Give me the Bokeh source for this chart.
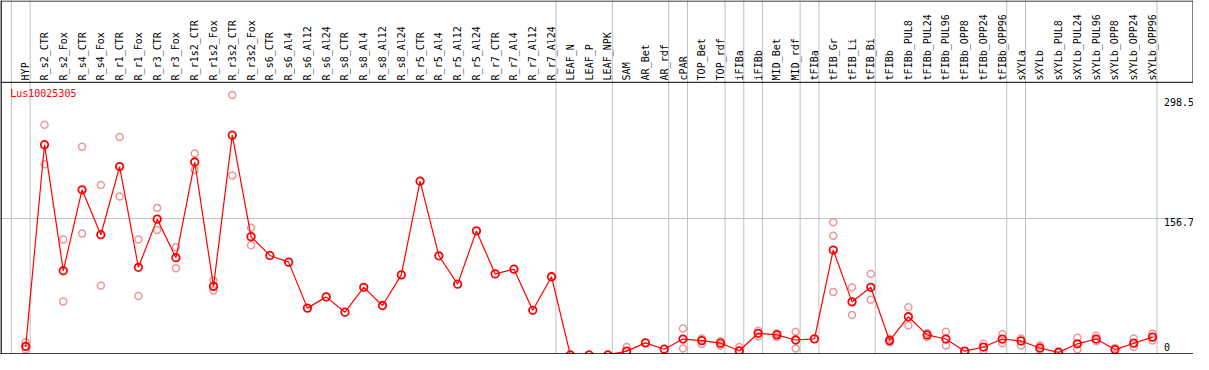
import math
from bokeh.plotting import figure
from bokeh.models import Range1d, Span, ColumnDataSource
from bokeh.core.properties import value
from bokeh.embed import file_html
from bokeh.resources import INLINE

# ---------------- data ----------------
gene = "Lus10025305"

groups = [
    ["HYP"],
    ["R_s2_CTR", "R_s2_Fox", "R_s4_CTR", "R_s4_Fox", "R_r1_CTR", "R_r1_Fox",
     "R_r3_CTR", "R_r3_Fox", "R_r1s2_CTR", "R_r1s2_Fox", "R_r3s2_CTR", "R_r3s2_Fox",
     "R_s6_CTR", "R_s6_Al4", "R_s6_Al12", "R_s6_Al24", "R_s8_CTR", "R_s8_Al4",
     "R_s8_Al12", "R_s8_Al24", "R_r5_CTR", "R_r5_Al4", "R_r5_Al12", "R_r5_Al24",
     "R_r7_CTR", "R_r7_Al4", "R_r7_Al12", "R_r7_Al24"],
    ["LEAF_N", "LEAF_P", "LEAF_NPK"],
    ["SAM", "AR_Bet", "AR_rdf"],
    ["cPAR"],
    ["TOP_Bet", "TOP_rdf"],
    ["iFIBa"],
    ["iFIBb"],
    ["MID_Bet", "MID_rdf"],
    ["tFIBa"],
    ["tFIB_Gr", "tFIB_Li", "tFIB_Bi"],
    ["tFIBb", "tFIBb_PUL8", "tFIBb_PUL24", "tFIBb_PUL96", "tFIBb_OPP8",
     "tFIBb_OPP24", "tFIBb_OPP96"],
    ["sXYLa"],
    ["sXYLb", "sXYLb_PUL8", "sXYLb_PUL24", "sXYLb_PUL96", "sXYLb_OPP8",
     "sXYLb_OPP24", "sXYLb_OPP96"],
]

means = [
    9.9,
    241.5, 96.7, 189.7, 138.1, 216.4, 100.7, 156.0, 111.7, 221.6, 78.8, 252.4, 135.9,
    114.3, 106.6, 53.8, 66.7, 49.1, 77.7, 56.8, 92.0, 199.6, 113.9, 81.3, 142.5,
    93.1, 98.5, 51.3, 89.8,
    0.0, 0.0, 0.0,
    4.4, 13.9, 6.6,
    18.3,
    16.5, 13.5,
    4.8,
    24.9,
    23.1, 17.2,
    18.5,
    120.5, 61.0, 77.7,
    16.5, 43.9, 23.0, 18.3, 4.4, 9.1, 18.3,
    16.1,
    8.0, 3.0, 12.8, 18.3, 6.2, 13.5, 20.5,
]

replicates = [
    [14.6, 6.2],
    [264.4, 219.0], [132.6, 61.5], [239.2, 139.5], [195.2, 79.9], [250.2, 182.0],
    [132.6, 67.8], [168.9, 143.6], [123.8, 99.6], [231.5, 212.4], [85.4, 74.0],
    [298.5, 206.2], [146.1, 126.0],
    [], [], [], [], [], [], [], [], [], [], [], [], [], [], [], [],
    [], [], [],
    [9.1], [], [],
    [30.4, 7.3],
    [19.0, 12.5], [15.7, 11.0],
    [9.1],
    [27.8, 21.2],
    [24.9, 20.5], [26.7, 7.3],
    [],
    [152.4, 137.0, 72.2], [77.7, 45.8], [93.1, 63.4],
    [18.5, 14.5], [54.9, 33.7], [25.0, 20.6], [26.7, 11.0], [], [12.8, 5.1], [23.8, 13.5],
    [19.0, 11.0],
    [11.0, 5.5], [4.4], [19.8, 6.6], [22.0, 15.7], [8.0], [19.0, 9.1], [24.5, 16.5],
]

tick_values = [298.5, 156.7, 0]
tick_labels = ["298.5", "156.7", "0"]

# ---------------- layout ----------------
W, H = 1193, 354
X0, X1 = -1.3424, 62.183
Y0, Y1 = 0.53, 407.1


def xd(fx):
    return X0 + fx * (X1 - X0) / W


def yd(fy):
    return Y1 - fy * (Y1 - Y0) / H


samples = [s for g in groups for s in g]
idx = list(range(len(samples)))

boundaries = [-1]
n = 0
for g in groups:
    n += len(g)
    boundaries.append(n - 1)

FONT = value("DejaVu Sans Mono")

p = figure(width=W, height=H, x_range=Range1d(X0, X1), y_range=Range1d(Y0, Y1),
           toolbar_location=None, output_backend="svg",
           x_axis_type=None, y_axis_type=None, min_border=0,
           outline_line_color=None, background_fill_color="white",
           border_fill_color="white")
p.min_border_left = p.min_border_right = p.min_border_top = p.min_border_bottom = 0

header_y = yd(81.8)

# grid lines
for b in boundaries:
    p.add_layout(Span(location=b + 0.237, dimension="height", line_color="#c0c0c0",
                      line_width=1, level="underlay"))
p.add_layout(Span(location=tick_values[1], dimension="width", line_color="#c0c0c0",
                  line_width=1, level="underlay"))

# borders
p.add_layout(Span(location=yd(0.5), dimension="width", line_color="black", line_width=1))
p.add_layout(Span(location=header_y, dimension="width", line_color="black", line_width=1))
p.add_layout(Span(location=yd(353.5), dimension="width", line_color="black", line_width=1.5))
p.add_layout(Span(location=xd(0.5), dimension="height", line_color="black", line_width=1.5))
p.segment(x0=[xd(1192.5)], y0=[header_y], x1=[xd(1192.5)], y1=[Y1], line_color="black",
          line_width=1)

# header labels
hsrc = ColumnDataSource(dict(x=idx, y=[yd(79.9)] * len(idx), t=samples))
p.text(x="x", y="y", text="t", source=hsrc, angle=math.pi / 2, text_font=FONT,
       text_font_size="10px", text_align="left", text_baseline="alphabetic",
       text_color="black")

# replicates
rx, ry = [], []
for i, reps in enumerate(replicates):
    for r in reps:
        rx.append(i)
        ry.append(r)
p.scatter(rx, ry, marker="circle", size=7, fill_color=None, line_color="#ec9898",
          line_width=1.5)

# mean line + points
p.line(idx, means, line_color="red", line_width=1.2)
p.scatter(idx, means, marker="circle", size=7.5, fill_color=None, line_color="red",
          line_width=1.8)

# gene name
p.text(x=[xd(9.7)], y=[yd(87.3)], text=[gene], text_font=FONT, text_font_size="10px",
       text_align="left", text_baseline="top", text_color="red")

# value labels on the right
tsrc = ColumnDataSource(dict(x=[xd(1163.5)] * 3, y=tick_values, t=tick_labels,
                             off=[3, -1, -12]))
p.text(x="x", y="y", text="t", source=tsrc, y_offset="off", text_font=FONT,
       text_font_size="10px", text_align="left", text_baseline="top", text_color="black")

open("out.html", "w").write(file_html(p, INLINE))
